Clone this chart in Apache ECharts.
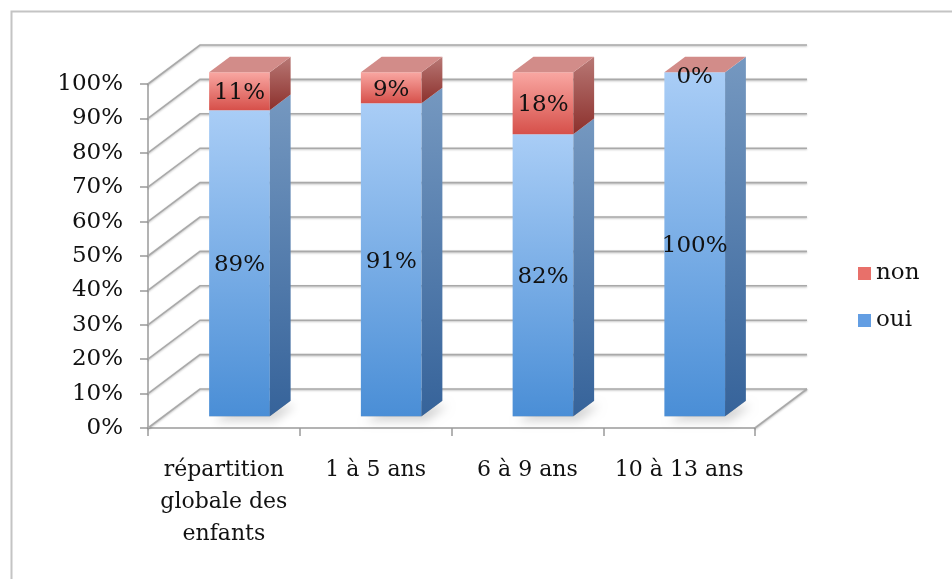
<!DOCTYPE html>
<html>
<head>
<meta charset="utf-8">
<script src="https://cdn.jsdelivr.net/npm/echarts@6/dist/echarts.min.js"></script>
<style>
html, body { margin: 0; background: #fff; }
#main { width: 952px; height: 579px; }
</style>
</head>
<body>
<div id="main"></div>
<script>
var categories = ['répartition\nglobale des\nenfants', '1 à 5 ans', '6 à 9 ans', '10 à 13 ans'];
var oui = [89, 91, 82, 100];
var non = [11, 9, 18, 0];
var yTicks = [0, 10, 20, 30, 40, 50, 60, 70, 80, 90, 100];

var FONT = 'DejaVu Serif';
// full depth of the 3d floor, and where the bars sit inside it
var DEPTH_X = 52, DEPTH_Y = -39;
var BAR_FRONT = 0.3, BAR_BACK = 0.7;
var BAR_W = 0.4;

function grad(a, b) {
    return new echarts.graphic.LinearGradient(0, 0, 0, 1, [
        { offset: 0, color: a },
        { offset: 1, color: b }
    ]);
}

var colors = {
    oui: { front: ['#a9cdf6', '#4a8ed6'], side: ['#7598c0', '#36639a'], top: '#b9d6f6' },
    non: { front: ['#f9a7a2', '#d6504a'], side: ['#b87875', '#8c302c'], top: '#d28c89' }
};

function barRender(c, withTop, withShadow) {
    return function (params, api) {
        var i = api.value(0), v0 = api.value(1), v1 = api.value(2);
        var band = api.size([1, 0])[0];
        var p0 = api.coord([i, v0]), p1 = api.coord([i, v1]);
        var w = band * BAR_W;
        var ox = DEPTH_X * BAR_FRONT, oy = DEPTH_Y * BAR_FRONT;
        var dx = DEPTH_X * (BAR_BACK - BAR_FRONT), dy = DEPTH_Y * (BAR_BACK - BAR_FRONT);
        var x0 = p0[0] - w / 2 + ox, x1 = x0 + w;
        var yb = p0[1] + oy, yt = p1[1] + oy;
        var kids = [];
        if (withShadow) {
            kids.push({
                type: 'polygon',
                shape: { points: [[x0, yb], [x1, yb], [x1 + dx, yb + dy], [x0 + dx, yb + dy]] },
                style: {
                    fill: 'rgba(0,0,0,0.3)', shadowBlur: 10, shadowColor: 'rgba(0,0,0,0.55)',
                    shadowOffsetX: 5, shadowOffsetY: 5
                }
            });
        }
        if (yb - yt > 0.5) {
            kids.push({
                type: 'rect',
                shape: { x: x0, y: yt, width: w, height: yb - yt },
                style: { fill: grad(c.front[0], c.front[1]) }
            });
            kids.push({
                type: 'polygon',
                shape: { points: [[x1, yt], [x1 + dx, yt + dy], [x1 + dx, yb + dy], [x1, yb]] },
                style: { fill: grad(c.side[0], c.side[1]) }
            });
        }
        if (withTop) {
            kids.push({
                type: 'polygon',
                shape: { points: [[x0, yt], [x0 + dx, yt + dy], [x1 + dx, yt + dy], [x1, yt]] },
                style: { fill: c.top }
            });
        }
        kids.push({
            type: 'text',
            x: x0 + w / 2,
            y: (yt + yb) / 2 + (yb - yt > 0.5 ? 2 : 5),
            style: {
                text: (v1 - v0) + '%',
                fontFamily: FONT, fontSize: 23, fill: '#111',
                align: 'center', verticalAlign: 'middle'
            }
        });
        return { type: 'group', children: kids };
    };
}

function wallRender(params, api) {
    var v = api.value(1);
    var cs = params.coordSys;
    var y = api.coord([0, v])[1];
    var xL = cs.x, xR = cs.x + cs.width;
    var lineStyle = {
        stroke: '#a9a9a9', lineWidth: 1.6, fill: null,
        shadowColor: 'rgba(0,0,0,0.25)', shadowBlur: 2, shadowOffsetY: 1
    };
    var kids = [{
        type: 'polyline',
        shape: { points: [[xL, y], [xL + DEPTH_X, y + DEPTH_Y], [xR + DEPTH_X, y + DEPTH_Y]] },
        style: lineStyle
    }];
    if (v === 0) {
        kids.push({
            type: 'line',
            shape: { x1: xR, y1: y, x2: xR + DEPTH_X, y2: y + DEPTH_Y },
            style: lineStyle
        });
    }
    return { type: 'group', children: kids };
}

var ouiData = [], nonData = [];
for (var i = 0; i < categories.length; i++) {
    ouiData.push([i, 0, oui[i]]);
    nonData.push([i, oui[i], oui[i] + non[i]]);
}

var chart = echarts.init(document.getElementById('main'));
chart.setOption({
    backgroundColor: '#fff',
    animation: false,
    graphic: [{
        type: 'rect',
        left: 9, top: 9,
        shape: { width: 1000, height: 600 },
        style: { fill: null, stroke: '#c4c4c4', lineWidth: 2 },
        z: -10
    }],
    grid: { left: 148, right: 197, top: 84, bottom: 151 },
    legend: {
        data: ['non', 'oui'],
        orient: 'vertical',
        left: 853, top: 257,
        icon: 'rect',
        itemWidth: 13, itemHeight: 13,
        itemGap: 24,
        textStyle: { fontFamily: FONT, fontSize: 23, color: '#111' }
    },
    xAxis: {
        type: 'category',
        data: categories,
        axisLine: { lineStyle: { color: '#9a9a9a', width: 1.5 } },
        axisTick: { show: true, interval: 0, length: 8, lineStyle: { color: '#9a9a9a', width: 1.5 } },
        axisLabel: { interval: 0, fontFamily: FONT, fontSize: 22, color: '#111', lineHeight: 32, margin: 26 },
        splitLine: { show: false }
    },
    yAxis: {
        type: 'value',
        min: 0, max: 100, interval: 10,
        axisLine: { show: true, lineStyle: { color: '#9a9a9a', width: 1.5 } },
        axisTick: { show: true, length: 8, lineStyle: { color: '#9a9a9a', width: 1.5 } },
        axisLabel: { fontFamily: FONT, fontSize: 23, color: '#111', margin: 25, formatter: '{value}%' },
        splitLine: { show: false }
    },
    series: [
        {
            name: 'walls', type: 'custom', silent: true, z: 1,
            renderItem: wallRender,
            data: yTicks.map(function (v) { return [0, v]; })
        },
        {
            name: 'oui', type: 'custom', z: 3,
            itemStyle: { color: '#639ee3' },
            renderItem: barRender(colors.oui, false, true),
            encode: { x: 0, y: [1, 2] },
            data: ouiData
        },
        {
            name: 'non', type: 'custom', z: 4,
            itemStyle: { color: '#e8706a' },
            renderItem: barRender(colors.non, true, false),
            encode: { x: 0, y: [1, 2] },
            data: nonData
        }
    ]
});
</script>
</body>
</html>
